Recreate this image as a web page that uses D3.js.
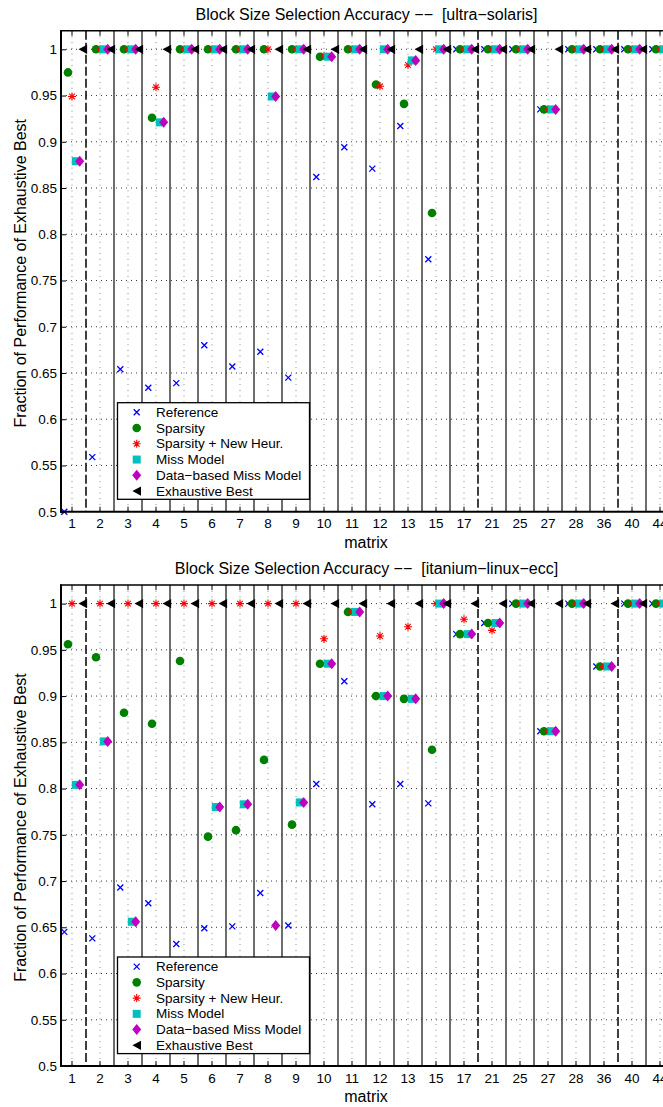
<!DOCTYPE html>
<html><head><meta charset="utf-8">
<script src="https://cdn.jsdelivr.net/npm/d3@7"></script>
<style>
body{margin:0;background:#fff;}
svg{display:block;}
text{font-family:"Liberation Sans",Arial,Helvetica,sans-serif;fill:#000;}
</style>
</head><body>
<svg id="c" width="663" height="1107"></svg>
<script>
// ---------- data ----------
const categories = ["1","2","3","4","5","6","7","8","9","10","11","12","13","15","17","21","25","27","28","36","40","44"];
const yTicks = [0.5,0.55,0.6,0.65,0.7,0.75,0.8,0.85,0.9,0.95,1];
const yTickLabels = ["0.5","0.55","0.6","0.65","0.7","0.75","0.8","0.85","0.9","0.95","1"];
const dashedAfter = ["1","17","36"];
const seriesNames = ["Reference","Sparsity","Sparsity + New Heur.","Miss Model","Data\u2212based Miss Model","Exhaustive Best"];

// ultra-solaris
const refSolaris      = [0.500,0.559,0.654,0.634,0.639,0.680,0.657,0.673,0.645,0.862,0.894,0.871,0.917,0.773,1,1,1,0.935,1,1,1,1];
const sparsitySolaris = [0.975,1,1,0.926,1,1,1,1,1,0.992,1,0.962,0.941,0.823,1,1,1,0.935,1,1,1,1];
const heurSolaris     = [0.949,1,1,0.959,1,1,1,1,1,0.993,1,0.960,0.983,1,1,1,1,0.935,1,1,1,1];
const missSolaris     = [0.879,1,1,0.921,1,1,1,0.949,1,0.992,1,1,0.988,1,1,1,1,0.935,1,1,1,1];
const dataMissSolaris = [0.879,1,1,0.921,1,1,1,0.949,1,0.992,1,1,0.988,1,1,1,1,0.935,1,1,1,1];
const bestSolaris     = [1,1,1,1,1,1,1,1,1,1,1,1,1,1,1,1,1,1,1,1,1,1];

// itanium-linux-ecc
const refItanium      = [0.645,0.638,0.693,0.676,0.632,0.649,0.651,0.687,0.652,0.805,0.916,0.783,0.805,0.784,0.967,0.979,1,0.862,1,0.932,1,1];
const sparsityItanium = [0.956,0.942,0.882,0.870,0.938,0.748,0.755,0.831,0.761,0.935,0.991,0.900,0.897,0.842,0.967,0.979,1,0.862,1,0.932,1,1];
const heurItanium     = [1,1,1,1,1,1,1,1,1,0.962,0.991,0.965,0.975,1,0.983,0.971,1,0.862,1,0.932,1,1];
const missItanium     = [0.804,0.851,0.656,null,null,0.780,0.783,null,0.785,0.935,0.991,0.900,0.897,1,0.967,0.979,1,0.862,1,0.932,1,1];
const dataMissItanium = [0.804,0.851,0.656,null,null,0.780,0.783,0.652,0.785,0.935,0.991,0.900,0.897,1,0.967,0.979,1,0.862,1,0.932,1,1];
const bestItanium     = [1,1,1,1,1,1,1,1,1,1,1,1,1,1,1,1,1,1,1,1,1,1];

const panels = [
  {title:"Block Size Selection Accuracy \u2212\u2212  [ultra\u2212solaris]",
   series:[refSolaris,sparsitySolaris,heurSolaris,missSolaris,dataMissSolaris,bestSolaris]},
  {title:"Block Size Selection Accuracy \u2212\u2212  [itanium\u2212linux\u2212ecc]",
   series:[refItanium,sparsityItanium,heurItanium,missItanium,dataMissItanium,bestItanium]}
];

// ---------- layout ----------
const svg = d3.select("#c");
const L = 61, R = 674, T = 30.8, B = 511.7, SHIFT = 554.3;
const offsets = [-7.7,-4,0,3.8,7.7,10.8];
const markerKinds = ["x","o","*","s","d","<"];

function drawMarker(g, kind, cx, cy){
  if(kind==="x"){
    g.append("path").attr("d",`M${cx-3},${cy-3}L${cx+3},${cy+3}M${cx-3},${cy+3}L${cx+3},${cy-3}`)
      .attr("stroke","#0000ff").attr("stroke-width",1.3).attr("fill","none");
  } else if(kind==="o"){
    g.append("circle").attr("cx",cx).attr("cy",cy).attr("r",4.3).attr("fill","#008000");
  } else if(kind==="*"){
    const a=4, b=2.8;
    g.append("path").attr("d",`M${cx-a},${cy}H${cx+a}M${cx},${cy-a}V${cy+a}M${cx-b},${cy-b}L${cx+b},${cy+b}M${cx-b},${cy+b}L${cx+b},${cy-b}`)
      .attr("stroke","#ff0000").attr("stroke-width",1.1).attr("fill","none");
  } else if(kind==="s"){
    g.append("rect").attr("x",cx-4).attr("y",cy-4).attr("width",8).attr("height",8).attr("fill","#00bfbf");
  } else if(kind==="d"){
    g.append("path").attr("d",`M${cx},${cy-5.5}L${cx+4.5},${cy}L${cx},${cy+5.5}L${cx-4.5},${cy}Z`).attr("fill","#bf00bf");
  } else if(kind==="<"){
    g.append("path").attr("d",`M${cx-4.3},${cy}L${cx+4.3},${cy-4.6}L${cx+4.3},${cy+4.6}Z`).attr("fill","#000");
  }
}

panels.forEach((p, pi) => {
  const dy = pi*SHIFT;
  const g = svg.append("g").attr("transform",`translate(0,${dy})`);
  const x = d3.scaleBand().domain(categories).range([58, 58+28*categories.length]).padding(0);
  const y = d3.scaleLinear().domain([0.5,1.02]).range([B,T]);
  const cx = c => x(c) + x.bandwidth()/2;

  // horizontal dotted grid
  g.append("g").selectAll("line").data(yTicks.filter(v=>v>0.5)).join("line")
    .attr("x1",L).attr("x2",R).attr("y1",d=>y(d)).attr("y2",d=>y(d))
    .attr("stroke","#222").attr("stroke-width",0.9).attr("stroke-dasharray","1,4");
  // vertical dotted grid
  g.append("g").selectAll("line").data(categories).join("line")
    .attr("x1",d=>cx(d)).attr("x2",d=>cx(d)).attr("y1",T).attr("y2",B)
    .attr("stroke","#777").attr("stroke-width",0.9).attr("stroke-dasharray","1,4.7");

  // separator lines
  const seps = categories.slice(0,-1);
  g.append("g").selectAll("line").data(categories).join("line")
    .attr("x1",d=>x(d)+x.bandwidth()).attr("x2",d=>x(d)+x.bandwidth())
    .attr("y1",T).attr("y2",B)
    .attr("stroke",d=>dashedAfter.includes(d)?"#000":"#3c3c3c")
    .attr("stroke-width",d=>dashedAfter.includes(d)?1.5:1.5)
    .attr("stroke-dasharray",d=>dashedAfter.includes(d)?"9,3":null);

  // data markers
  const mg = g.append("g");
  p.series.forEach((vals, si) => {
    vals.forEach((v, ci) => {
      if(v===null || v===undefined) return;
      drawMarker(mg, markerKinds[si], cx(categories[ci]) + offsets[si], y(v));
    });
  });

  // axes
  const yAxis = d3.axisLeft(y).tickValues(yTicks).tickFormat((d,i)=>yTickLabels[i]).tickSizeInner(-5).tickSizeOuter(0).tickPadding(4);
  const ya = g.append("g").attr("transform",`translate(${L},0)`).call(yAxis);
  ya.select(".domain").remove();
  ya.selectAll("line").attr("stroke","#000").attr("stroke-width",1);
  ya.selectAll("text").attr("font-size","13.5px").attr("font-family",null);

  const xAxis = d3.axisBottom(x).tickSizeInner(-5).tickSizeOuter(0).tickPadding(7);
  const xa = g.append("g").attr("transform",`translate(0,${B})`).call(xAxis);
  xa.select(".domain").remove();
  xa.selectAll("line").attr("stroke","#000").attr("stroke-width",1);
  xa.selectAll("text").attr("font-size","13.5px").attr("font-family",null);

  // top ticks
  g.append("g").selectAll("line").data(categories).join("line")
    .attr("x1",d=>cx(d)).attr("x2",d=>cx(d)).attr("y1",T).attr("y2",T+5)
    .attr("stroke","#000").attr("stroke-width",1);

  // box
  g.append("line").attr("x1",L).attr("x2",L).attr("y1",T-0.7).attr("y2",B+1).attr("stroke","#000").attr("stroke-width",2);
  g.append("line").attr("x1",L-1).attr("x2",R).attr("y1",B).attr("y2",B).attr("stroke","#000").attr("stroke-width",2);
  g.append("line").attr("x1",L-1).attr("x2",R).attr("y1",T).attr("y2",T).attr("stroke","#000").attr("stroke-width",1.5);

  // title & labels
  g.append("text").attr("x",366.5).attr("y",20).attr("text-anchor","middle")
    .attr("font-size","16px").style("white-space","pre").text(p.title);
  g.append("text").attr("x",366).attr("y",547.5).attr("text-anchor","middle")
    .attr("font-size","16px").text("matrix");
  g.append("text").attr("transform",`translate(20,${(T+B)/2+2}) rotate(-90)`)
    .attr("text-anchor","middle").attr("dominant-baseline","central")
    .attr("font-size","16px").text("Fraction of Performance of Exhaustive Best");

  // legend
  const lx = 117.5, ly = B - 109, lw = 192, lh = 96.6;
  const lg = g.append("g");
  lg.append("rect").attr("x",lx).attr("y",ly).attr("width",lw).attr("height",lh)
    .attr("fill","#fff").attr("stroke","#000").attr("stroke-width",1.3);
  seriesNames.forEach((name, si) => {
    const ey = ly + 9.6 + si*15.75;
    drawMarker(lg, markerKinds[si], 136.7, ey);
    lg.append("text").attr("x",156).attr("y",ey).attr("dominant-baseline","central")
      .attr("font-size","13.5px").text(name);
  });
});
</script>
</body></html>
